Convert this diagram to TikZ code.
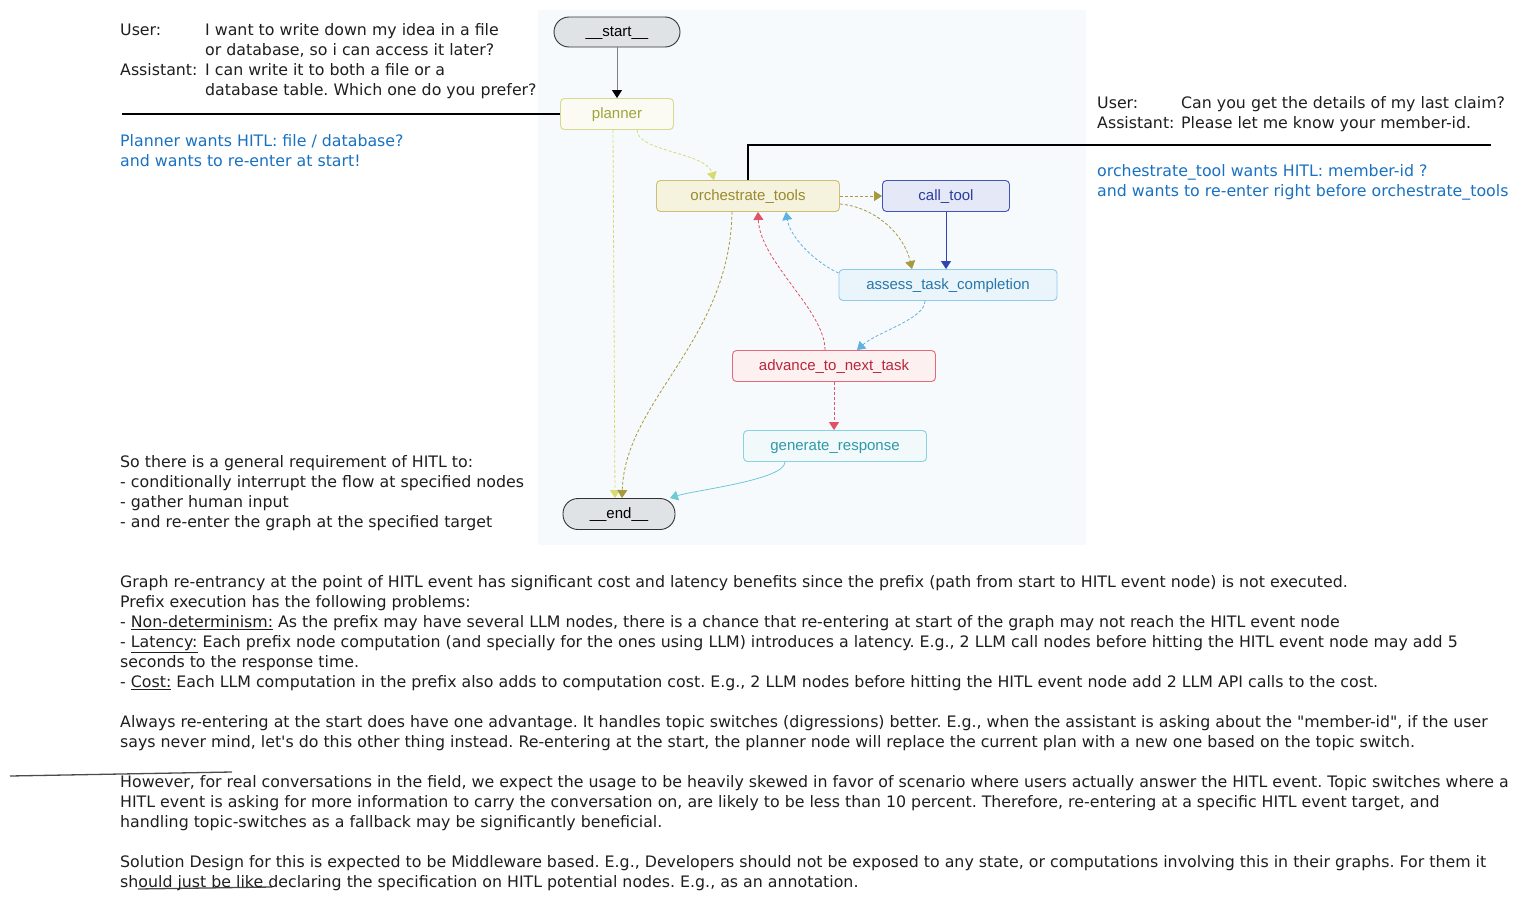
\documentclass[tikz,border=0pt]{standalone}
\usepackage{fontspec}
\setmainfont{Liberation Sans}
\newfontfamily\notefont{DejaVu Sans}
\usetikzlibrary{arrows.meta}
\frenchspacing

\definecolor{inkc}{HTML}{1E1E1E}
\definecolor{hintblue}{HTML}{1971C2}
\definecolor{graphbg}{HTML}{F7FAFC}
\definecolor{termfill}{HTML}{DFE3E6}
\definecolor{termdraw}{HTML}{333333}
\definecolor{plnfill}{HTML}{FBFBF3}
\definecolor{plndraw}{HTML}{D6DA8C}
\definecolor{plntext}{HTML}{9EA33A}
\definecolor{plnedge}{HTML}{D6DB72}
\definecolor{orcfill}{HTML}{F5F2DE}
\definecolor{orcdraw}{HTML}{CBBF74}
\definecolor{orctext}{HTML}{998B2E}
\definecolor{orcedge}{HTML}{A8993C}
\definecolor{calfill}{HTML}{E5E8F6}
\definecolor{caldraw}{HTML}{4254B8}
\definecolor{caltext}{HTML}{2B3C9C}
\definecolor{caledge}{HTML}{3045B0}
\definecolor{assfill}{HTML}{EAF4FB}
\definecolor{assdraw}{HTML}{8CCAEE}
\definecolor{asstext}{HTML}{2878A8}
\definecolor{assedge}{HTML}{5CB3E0}
\definecolor{advfill}{HTML}{FCF0F1}
\definecolor{advdraw}{HTML}{E36A7B}
\definecolor{advtext}{HTML}{B8263B}
\definecolor{advedge}{HTML}{E05268}
\definecolor{genfill}{HTML}{F1F9FB}
\definecolor{gendraw}{HTML}{87D3DE}
\definecolor{gentext}{HTML}{2F9AA6}
\definecolor{genedge}{HTML}{6FCAD8}

\begin{document}
\begin{tikzpicture}[x=1pt,y=-1pt,inner sep=0pt,>={Triangle[width=10pt,length=8pt]},
  gnode/.style={draw,rounded corners=4pt,minimum height=31pt,line width=0.9pt,
    text height=13pt,text depth=3.5pt,font=\fontsize{15}{18}\selectfont},
  term/.style={gnode,rounded corners=15pt,fill=termfill,draw=termdraw,text=black},
  note/.style={anchor=north west,align=left,text=inkc,
    font=\notefont\fontsize{15.8}{20}\selectfont},
  hint/.style={note,text=hintblue},
  flow/.style={line width=0.8pt},
  dflow/.style={flow,dash pattern=on 3pt off 2pt},
  cutline/.style={line width=2.4pt,black},
  sketch/.style={line width=1.3pt,inkc!80}]
  \useasboundingbox (0,0) rectangle (1529,902);
  \fill[graphbg] (538,10) rectangle (1086,545);

  \node[term,minimum width=126pt,minimum height=30pt] (start) at (617,32) {\_\_start\_\_};
  \node[gnode,fill=plnfill,draw=plndraw,text=plntext,minimum width=113pt] (planner) at (617,114) {planner};
  \node[gnode,fill=orcfill,draw=orcdraw,text=orctext,minimum width=183pt] (orch) at (748,196) {orchestrate\_tools};
  \node[gnode,fill=calfill,draw=caldraw,text=caltext,minimum width=127pt] (call) at (946,196) {call\_tool};
  \node[gnode,fill=assfill,draw=assdraw,text=asstext,minimum width=218pt] (assess) at (948,285) {assess\_task\_completion};
  \node[gnode,fill=advfill,draw=advdraw,text=advtext,minimum width=203pt] (advance) at (834,366) {advance\_to\_next\_task};
  \node[gnode,fill=genfill,draw=gendraw,text=gentext,minimum width=183pt] (generate) at (835,446) {generate\_response};
  \node[term,minimum width=112pt] (end) at (619,514) {\_\_end\_\_};

  \draw[->,flow,draw=gray,>={Triangle[width=10pt,length=8pt,color=black]}] (start) -- (planner);
  \draw[->,dflow,draw=plnedge] ([xshift=20pt]planner.south) .. controls +(0,22) and +(-8,-28) .. ([xshift=-34pt]orch.north);
  \draw[->,dflow,draw=plnedge] ([xshift=-4pt]planner.south) -- ([xshift=-4pt]end.north);
  \draw[->,dflow,draw=orcedge] (orch.east) -- (call.west);
  \draw[->,dflow,draw=orcedge] ([yshift=-8pt]orch.east) .. controls +(35,3) and +(-8,-35) .. ([xshift=-36pt]assess.north);
  \draw[->,dflow,draw=orcedge] ([xshift=-16pt]orch.south) .. controls +(-2,129) and +(3,-98) .. ([xshift=3pt]end.north);
  \draw[->,flow,draw=caledge] (call.south) -- (call.south |- assess.north);
  \draw[->,dflow,draw=assedge] ([yshift=-4pt]assess.north west) .. controls +(-24,-11) and +(4,25) .. ([xshift=38pt]orch.south);
  \draw[->,dflow,draw=assedge] ([xshift=-23pt]assess.south) .. controls +(0,18) and +(20,-18) .. ([xshift=23pt]advance.north);
  \draw[->,dflow,draw=advedge] ([xshift=-9pt]advance.north) .. controls +(0,-40) and +(2,50) .. ([xshift=10pt]orch.south);
  \draw[->,dflow,draw=advedge] (advance.south) -- (advance.south |- generate.north);
  \draw[->,flow,draw=genedge] ([xshift=-50pt]generate.south) .. controls +(0,18) and +(25,-8) .. ([xshift=51pt]end.north);

  \coordinate (lcut) at (122,114);
  \coordinate (rcut) at (1491,145);
  \draw[cutline] (lcut) -- (planner.west);
  \draw[cutline] (orch.north) |- (rcut);
  \draw[sketch] (10,776) -- (232,772);
  \draw[sketch] (138,889) -- (272,887);

  \node[note] (planchat) at (120,23) {\makebox[85pt][l]{User:}I want to write down my idea in a file\\
    \hspace*{85pt}or database, so i can access it later?\\
    \makebox[85pt][l]{Assistant:}I can write it to both a file or a\\
    \hspace*{85pt}database table. Which one do you prefer?};
  \node[hint] (planhint) at (120,134) {Planner wants HITL: file / database?\\and wants to re-enter at start!};
  \node[note] (orchchat) at (1097,96) {\makebox[84pt][l]{User:}Can you get the details of my last claim?\\
    \makebox[84pt][l]{Assistant:}Please let me know your member-id.};
  \node[hint] (orchhint) at (1097,164) {orchestrate\_tool wants HITL: member-id ?\\and wants to re-enter right before orchestrate\_tools};
  \node[note] (needs) at (120,455) {So there is a general requirement of HITL to:\\
    - conditionally interrupt the flow at specified nodes\\
    - gather human input\\
    - and re-enter the graph at the specified target};
  \node[note] (prefix) at (120,575) {Graph re-entrancy at the point of HITL event has significant cost and latency benefits since the prefix (path from start to HITL event node) is not executed.\\
    Prefix execution has the following problems:\\
    - \underline{Non-determinism:} As the prefix may have several LLM nodes, there is a chance that re-entering at start of the graph may not reach the HITL event node\\
    - \underline{Latency:} Each prefix node computation (and specially for the ones using LLM) introduces a latency. E.g., 2 LLM call nodes before hitting the HITL event node may add 5\\
    seconds to the response time.\\
    - \underline{Cost:} Each LLM computation in the prefix also adds to computation cost. E.g., 2 LLM nodes before hitting the HITL event node add 2 LLM API calls to the cost.};
  \node[note] (restart) at (120,715) {Always re-entering at the start does have one advantage. It handles topic switches (digressions) better. E.g., when the assistant is asking about the "member-id", if the user\\
    says never mind, let's do this other thing instead. Re-entering at the start, the planner node will replace the current plan with a new one based on the topic switch.};
  \node[note] (usage) at (120,775) {However, for real conversations in the field, we expect the usage to be heavily skewed in favor of scenario where users actually answer the HITL event. Topic switches where a\\
    HITL event is asking for more information to carry the conversation on, are likely to be less than 10 percent. Therefore, re-entering at a specific HITL event target, and\\
    handling topic-switches as a fallback may be significantly beneficial.};
  \node[note] (design) at (120,855) {Solution Design for this is expected to be Middleware based. E.g., Developers should not be exposed to any state, or computations involving this in their graphs. For them it\\
    should just be like declaring the specification on HITL potential nodes. E.g., as an annotation.};
\end{tikzpicture}
\end{document}
